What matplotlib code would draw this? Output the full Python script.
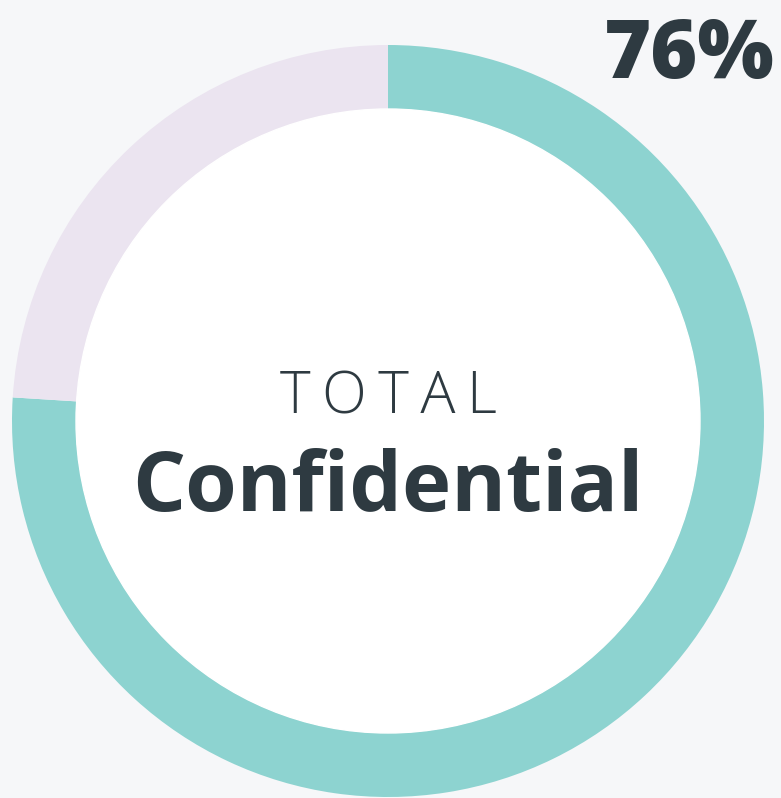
import matplotlib
matplotlib.use("Agg")
import matplotlib.pyplot as plt

# donut share values
labels = ["Confidential", "Other"]
shares = [76, 24]
colors = ["#8dd3d0", "#ebe4f0"]

W, H = 781, 798
fig = plt.figure(figsize=(W / 100, H / 100), dpi=100)
fig.patch.set_facecolor("#f6f7f9")
ax = fig.add_axes([0, 0, 1, 1])

cx, cy = 388, H - 421
R, r = 376, 312

ax.pie(shares, colors=colors, startangle=90, counterclock=False,
       center=(cx, cy), radius=R, frame=True,
       wedgeprops=dict(width=R - r, linewidth=0))
ax.add_patch(plt.Circle((cx, cy), r, color="white", zorder=3))
ax.set_xlim(0, W)
ax.set_ylim(0, H)
ax.set_aspect("equal")
ax.axis("off")

dark = "#2e3a41"
fonts = ["Open Sans", "DejaVu Sans"]
ax.text(775, H - 57, f"{shares[0]}%", ha="right", va="center",
        fontsize=58, fontweight="heavy", family=fonts, color=dark, zorder=4)
ax.text(cx, H - 398, "\u2009".join("TOTAL"), ha="center", va="center",
        fontsize=42, fontweight="light", family=fonts, color=dark, zorder=4)
ax.text(cx, H - 490, labels[0], ha="center", va="center",
        fontsize=60, fontweight="bold", family=fonts, color=dark, zorder=4)

fig.savefig("out.png", dpi=100, facecolor=fig.get_facecolor())
